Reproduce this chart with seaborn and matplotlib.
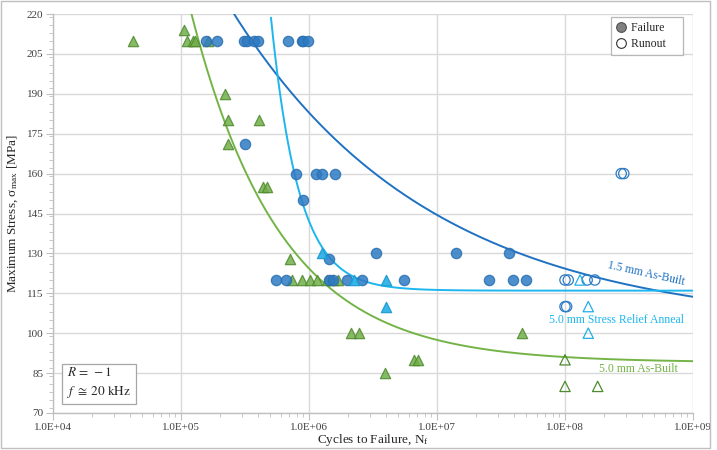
import numpy as np
import pandas as pd
import matplotlib
matplotlib.use("Agg")
import matplotlib.pyplot as plt
from matplotlib.lines import Line2D
from matplotlib.patches import Rectangle
from matplotlib.ticker import MultipleLocator, LogLocator, NullFormatter
import seaborn as sns

# ---------------- data ----------------
# 1.5 mm As-Built (circles)
ab15_fail_N = [1.57e5, 1.90e5, 3.13e5, 3.30e5, 3.72e5, 3.97e5, 6.82e5, 8.77e5, 8.93e5, 9.89e5,
               3.15e5,
               7.87e5, 1.13e6, 1.26e6, 1.60e6,
               9.02e5,
               3.32e6, 1.42e7, 3.63e7,
               1.43e6,
               5.5e5, 6.58e5, 1.43e6, 1.54e6, 1.97e6, 2.61e6, 5.52e6, 2.55e7, 3.9e7, 4.95e7]
ab15_fail_S = [210, 210, 210, 210, 210, 210, 210, 210, 210, 210,
               171,
               160, 160, 160, 160,
               150,
               130, 130, 130,
               128,
               120, 120, 120, 120, 120, 120, 120, 120, 120, 120]
ab15_run_N = [1.0e8, 1.06e8, 1.49e8, 1.71e8, 1.0e8, 1.03e8, 2.75e8, 2.88e8]
ab15_run_S = [120, 120, 120, 120, 110, 110, 160, 160]

# 5.0 mm Stress Relief Anneal (light-blue triangles)
sra50_fail_N = [1.26e6, 2.26e6, 3.98e6, 3.98e6]
sra50_fail_S = [130, 120, 120, 110]
sra50_run_N = [1.31e8, 1.52e8, 1.52e8]
sra50_run_S = [120, 110, 100]

# 5.0 mm As-Built (green triangles)
ab50_fail_N = [4.2e4, 1.05e5, 1.12e5, 1.23e5, 1.29e5, 1.63e5,
               2.19e5, 2.33e5, 4.09e5, 2.33e5, 4.4e5, 4.7e5, 7.1e5,
               7.4e5, 8.8e5, 1.02e6, 1.16e6, 1.38e6, 1.54e6, 1.69e6,
               2.13e6, 2.46e6, 3.92e6, 6.65e6, 7.15e6, 4.65e7]
ab50_fail_S = [210, 214, 210, 210, 210, 210,
               190, 180, 180, 171, 155, 155, 128,
               120, 120, 120, 120, 120, 120, 120,
               100, 100, 85, 90, 90, 100]
ab50_run_N = [1.0e8, 1.0e8, 1.8e8]
ab50_run_S = [90, 80, 80]

# fitted curves  S = A + B * N^(-c)   (log10 B given)
fit_names = ["1.5 mm As-Built", "5.0 mm Stress Relief Anneal", "5.0 mm As-Built"]
fit_A = [102.0, 116.0, 89.0]
fit_logB = [3.588, 13.417, 5.268]
fit_c = [0.28, 2.0, 0.62]

x_ticks = [1e4, 1e5, 1e6, 1e7, 1e8, 1e9]
x_ticklabels = ["1.0E+04", "1.0E+05", "1.0E+06", "1.0E+07", "1.0E+08", "1.0E+09"]
y_ticks = [70, 85, 100, 115, 130, 145, 160, 175, 190, 205, 220]

# ---------------- style ----------------
sns.set_theme(style="white")
plt.rcParams["font.family"] = ["Liberation Serif", "DejaVu Serif"]
plt.rcParams["mathtext.fontset"] = "stix"

C_DARK = "#2E7BC4"
C_DARK_LINE = "#1F72C2"
C_LIGHT = "#22AEE8"
C_LIGHT_LINE = "#1DB6EE"
C_GREEN = "#72AE4A"
C_GREEN_EDGE = "#4E8A2E"
C_GREEN_LINE = "#74B447"
GRID = "#D9D9D9"

fig = plt.figure(figsize=(7.17, 4.5), dpi=100)
ax = fig.add_axes([53 / 717, 1 - 413 / 450, 640 / 717, 399 / 450])

# curves
Ngrid = np.logspace(4, 9, 600)
line_cols = [C_DARK_LINE, C_LIGHT_LINE, C_GREEN_LINE]
for name, A, lb, c, col in zip(fit_names, fit_A, fit_logB, fit_c, line_cols):
    S = A + 10 ** (lb - c * np.log10(Ngrid))
    dfc = pd.DataFrame({"N": Ngrid, "S": S})
    dfc = dfc[dfc["S"] <= 222]
    sns.lineplot(data=dfc, x="N", y="S", ax=ax, color=col, lw=1.4, sort=False,
                 estimator=None, zorder=3)

# scatter series
ms = 55
def scat(N, S, marker, face, edge, alpha, z):
    df = pd.DataFrame({"N": N, "S": S})
    sns.scatterplot(data=df, x="N", y="S", ax=ax, marker=marker, s=ms,
                    facecolor=face, edgecolor=edge, linewidth=0.9, alpha=alpha, zorder=z)

scat(ab50_fail_N, ab50_fail_S, "^", C_GREEN, C_GREEN_EDGE, 0.85, 4)
scat(ab15_fail_N, ab15_fail_S, "o", C_DARK, "#2A6FB0", 0.85, 5)
scat(sra50_fail_N, sra50_fail_S, "^", C_LIGHT, "#1A9AD0", 0.9, 5)
scat(ab50_run_N, ab50_run_S, "^", "none", C_GREEN_EDGE, 1.0, 5)
scat(ab15_run_N, ab15_run_S, "o", "none", C_DARK, 1.0, 5)
scat(sra50_run_N, sra50_run_S, "^", "none", C_LIGHT, 1.0, 5)

# axes
ax.set_xscale("log")
ax.set_xlim(1e4, 1e9)
ax.set_ylim(70, 220)
ax.set_xticks(x_ticks)
ax.set_xticklabels(x_ticklabels)
ax.xaxis.set_minor_locator(LogLocator(base=10, subs=np.arange(2, 10)))
ax.xaxis.set_minor_formatter(NullFormatter())
ax.set_yticks(y_ticks)
ax.yaxis.set_minor_locator(MultipleLocator(3))
ax.grid(True, which="major", color=GRID, lw=1.0)
ax.set_axisbelow(True)
for sp in ["top", "right"]:
    ax.spines[sp].set_visible(False)
for sp in ["left", "bottom"]:
    ax.spines[sp].set_color("#BFBFBF")
    ax.spines[sp].set_linewidth(1.0)
ax.tick_params(axis="both", which="major", direction="out", length=5, width=0.8,
               color="#BFBFBF", labelsize=8, labelcolor="#404040", pad=2)
ax.tick_params(axis="both", which="minor", direction="out", length=3, width=0.6,
               color="#BFBFBF")
ax.tick_params(axis="x", which="both", bottom=True)
ax.tick_params(axis="y", which="both", left=True)

ax.set_xlabel(r"Cycles to Failure, N$_\mathregular{f}$", fontsize=9.5, color="#262626", labelpad=0)
ax.set_ylabel(r"Maximum Stress, σ$_\mathregular{max}$ [MPa]", fontsize=9.5, color="#262626", labelpad=5)

# curve labels
ax.annotate("1.5 mm As-Built", xy=(10 ** 8.635, 122.3), color=C_DARK_LINE, fontsize=8.5,
            ha="center", va="center", rotation=-12.5)
ax.annotate("5.0 mm Stress Relief Anneal", xy=(10 ** 8.40, 105.0), color=C_LIGHT_LINE,
            fontsize=8.5, ha="center", va="center")
ax.annotate("5.0 mm As-Built", xy=(10 ** 8.57, 86.6), color=C_GREEN_LINE, fontsize=8.5,
            ha="center", va="center")

# conditions box
ax.text(0.022, 0.033, "$R\\,=\\,-1$\n$f\\;\\cong\\;20\\ \\mathrm{kHz}$", transform=ax.transAxes,
        fontsize=9.5, ha="left", va="bottom", linespacing=1.4, color="#262626",
        bbox=dict(boxstyle="square,pad=0.35", fc="white", ec="#A6A6A6", lw=0.9), zorder=6)

# legend
handles = [Line2D([], [], marker="o", ls="none", markersize=7, markerfacecolor="#808080",
                  markeredgecolor="#505050", markeredgewidth=0.8, label="Failure    "),
           Line2D([], [], marker="o", ls="none", markersize=7, markerfacecolor="white",
                  markeredgecolor="#303030", markeredgewidth=0.8, label="Runout    ")]
leg = ax.legend(handles=handles, loc="upper right", bbox_to_anchor=(0.984, 0.993),
                fontsize=8.5, frameon=True, fancybox=False, edgecolor="#A6A6A6",
                handlelength=0.8, handletextpad=0.4, borderpad=0.45, labelspacing=0.3,
                borderaxespad=0.0)
leg.get_frame().set_linewidth(0.9)

# outer chart border
fig.patches.append(Rectangle((1 / 717, 2 / 450), 709 / 717, 447 / 450, transform=fig.transFigure,
                             fill=False, ec="#BFBFBF", lw=1.0))

fig.savefig("out.png", dpi=100)
